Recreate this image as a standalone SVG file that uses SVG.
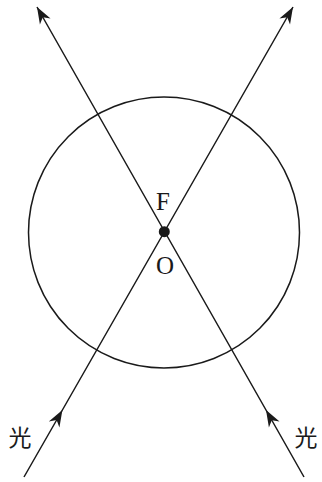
<svg xmlns="http://www.w3.org/2000/svg" width="322" height="482" viewBox="0 0 322 482">
<style>
.ln{fill:none;stroke:#1a1a1a;stroke-width:1.5}
.lat{font-family:"Liberation Serif","Times New Roman",serif;font-size:25px;fill:#1a1a1a;text-anchor:middle}
.cjk{font-family:"Noto Sans CJK SC","Noto Sans CJK JP",sans-serif;font-size:23px;fill:#1a1a1a;text-anchor:middle}
</style>
<defs>
<marker id="ah" markerUnits="userSpaceOnUse" markerWidth="20" markerHeight="20" viewBox="-16 -8 18 16" refX="0" refY="0" orient="auto">
<path d="M0,0 L-15,-5.5 L-10.5,0 L-15,5.5 Z" fill="#1a1a1a"/>
</marker>
</defs>
<g id="circle"><circle class="ln" cx="164" cy="232.5" r="135.5"/></g>
<g id="connectors">
<polyline class="ln" points="24,477 62.4,410 293,7" marker-mid="url(#ah)" marker-end="url(#ah)"/>
<polyline class="ln" points="304,477 266,410 37,7" marker-mid="url(#ah)" marker-end="url(#ah)"/>
</g>
<g id="focus"><circle cx="164.3" cy="231.7" r="5.5" fill="#1a1a1a"/></g>
<g id="labels">
<text class="lat" x="163" y="210">F</text>
<text class="lat" x="165" y="274">O</text>
<text class="cjk" x="20" y="446">光</text>
<text class="cjk" x="306" y="446">光</text>
</g>
</svg>
